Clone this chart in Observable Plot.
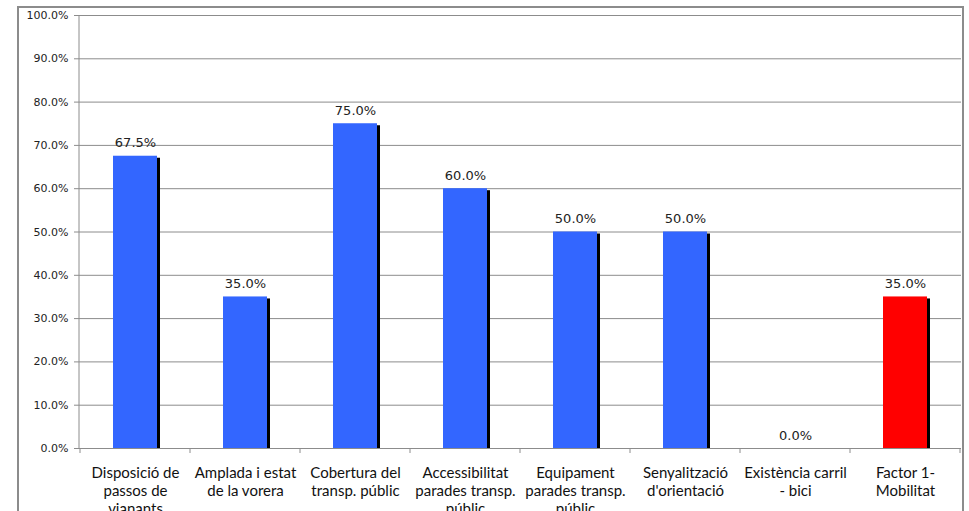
<!DOCTYPE html>
<html>
<head>
<meta charset="utf-8">
<script src="https://cdn.jsdelivr.net/npm/d3@7"></script>
<script src="https://cdn.jsdelivr.net/npm/@observablehq/plot@0.6"></script>
<style>
  html, body { margin: 0; padding: 0; background: #fff; overflow: hidden; }
  #wrap { position: relative; width: 969px; height: 511px; }
  #frame { position: absolute; left: 17px; top: 6px; width: 947px; height: 520px;
           border: 2px solid #8c8c8c; box-sizing: border-box; pointer-events: none; }
  #chart { position: absolute; left: 0; top: 0; }
</style>
</head>
<body>
<div id="wrap">
  <div id="chart"></div>
  <div id="frame"></div>
</div>
<script>
// Indicadors del factor de mobilitat (percentatge de compliment)
const categories = [
  "Disposició de\npassos de\nvianants",
  "Amplada i estat\nde la vorera",
  "Cobertura del\ntransp. públic",
  "Accessibilitat\nparades transp.\npúblic",
  "Equipament\nparades transp.\npúblic",
  "Senyalització\nd'orientació",
  "Existència carril\n- bici",
  "Factor 1-\nMobilitat"
];
const values = [0.675, 0.35, 0.75, 0.60, 0.50, 0.50, 0.0, 0.35];
const barColors = ["#3366ff", "#3366ff", "#3366ff", "#3366ff", "#3366ff", "#3366ff", "#3366ff", "#ff0000"];
const yTicks = [0, 0.1, 0.2, 0.3, 0.4, 0.5, 0.6, 0.7, 0.8, 0.9, 1.0];

const data = categories.map((c, i) => ({ cat: c, value: values[i], color: barColors[i] }));
const pct = d3.format(".1%");

// Small tick marks at the boundaries between categories
function boundaryTicks() {
  return (index, scales, values, dimensions) => {
    const x = scales.x;
    const bw = x.bandwidth ? x.bandwidth() : 0;
    const step = x.step ? x.step() : bw;
    const yb = dimensions.height - dimensions.marginBottom;
    const g = d3.create("svg:g").attr("stroke", "#8c8c8c").attr("stroke-width", 1);
    const xs = categories.map(c => x(c) + bw / 2 - step / 2);
    xs.push(x(categories[categories.length - 1]) + bw / 2 + step / 2);
    for (const px of xs) {
      g.append("line").attr("x1", px).attr("x2", px).attr("y1", yb).attr("y2", yb + 5);
    }
    return g.node();
  };
}

// Vertical axis line along the left edge of the plot area
function yAxisLine() {
  return (index, scales, values, dimensions) => {
    const x0 = dimensions.marginLeft;
    return d3.create("svg:line")
      .attr("x1", x0).attr("x2", x0)
      .attr("y1", scales.y(1)).attr("y2", scales.y(0))
      .attr("stroke", "#8c8c8c").node();
  };
}

const chart = Plot.plot({
  width: 969,
  height: 511,
  marginLeft: 79,
  marginRight: 8,
  marginTop: 15,
  marginBottom: 63,
  style: { fontFamily: "DejaVu Sans, sans-serif", background: "transparent", overflow: "visible" },
  x: { domain: categories, paddingInner: 0.6, paddingOuter: 0.3, align: 0.5, label: null },
  y: { domain: [0, 1], label: null },
  marks: [
    Plot.gridY(yTicks, { stroke: "#8c8c8c", strokeOpacity: 1, strokeWidth: 1 }),
    Plot.ruleY([0], { stroke: "#8c8c8c" }),
    Plot.axisY(yTicks, {
      tickFormat: pct, tickSize: 5, tickPadding: 6, stroke: "#8c8c8c",
      fontSize: 11, fill: "#222", label: null
    }),
    Plot.axisX({
      tickSize: 0, tickPadding: 17, fontSize: 15, fill: "#111", label: null,
      lineHeight: 1.2, fontFamily: "Lato, sans-serif", textAnchor: "middle"
    }),
    Plot.barY(data, { x: "cat", y: "value", fill: "#000", dx: 3, insetTop: 2 }),
    Plot.barY(data, { x: "cat", y: "value", fill: "color" }),
    Plot.text(data, {
      x: "cat", y: "value", text: d => pct(d.value), dy: -9, lineAnchor: "bottom",
      fontSize: 13, fill: "#222"
    }),
    boundaryTicks(),
    yAxisLine()
  ]
});

document.getElementById("chart").appendChild(chart);
</script>
</body>
</html>
